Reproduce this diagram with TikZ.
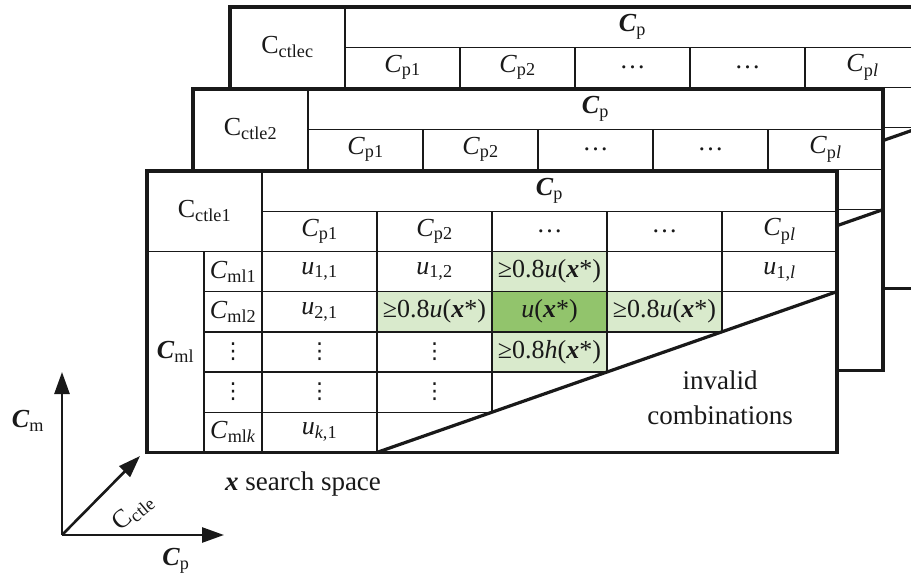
\documentclass[tikz,border=0pt]{standalone}
\usepackage{fontspec}
\setmainfont{Liberation Serif}
\newfontfamily\dejavu{DejaVu Sans}
\usetikzlibrary{arrows.meta}
\definecolor{lg}{RGB}{217,234,204}
\definecolor{dg}{RGB}{146,196,108}
\definecolor{ink}{RGB}{25,25,25}
\tikzset{
  thinline/.style={draw=ink,line width=1.4pt},
  thickline/.style={draw=ink,line width=3.2pt},
  txt/.style={inner sep=0pt,text=ink,font=\fontsize{26}{30}\selectfont},
  vdt/.style={inner sep=0pt,text=ink,font=\dejavu\fontsize{22}{24}\selectfont},
  axisline/.style={draw=ink,line width=2.6pt,-{Triangle[length=22pt,width=15pt]}},
}
\newcommand\tbg{\fill[white] (0,0) rectangle (690,281.4);}
\newcommand\tlines{%
  \begin{scope}
    \clip (0,0) -- (690,0) -- (690,120.6) -- (230,281.4) -- (0,281.4) -- cycle;
    \draw[thinline] (115,40.2) -- (690,40.2);
    \draw[thinline] (0,80.4) -- (690,80.4);
    \foreach \k in {3,...,6} \draw[thinline] (57,40.2*\k) -- (690,40.2*\k);
    \draw[thinline] (115,0) -- (115,281.4);
    \draw[thinline] (57,80.4) -- (57,281.4);
    \foreach \j in {2,...,5} \draw[thinline] (115*\j,40.2) -- (115*\j,281.4);
  \end{scope}
  \draw[thickline] (230,281.4) -- (690,120.6);
  \draw[thickline] (0,0) rectangle (690,281.4);
}
\newcommand\theads[2]{%
  \node[txt] (#1ctle) at (57.5,40.2) {C\textsubscript{#2}};
  \node[txt] (#1cp) at (402.5,20.1) {\textbf{\textit{C}}\textsubscript{p}};
  \node[txt] (#1p1) at (172.5,60.3) {\textit{C}\textsubscript{p1}};
  \node[txt] (#1p2) at (287.5,60.3) {\textit{C}\textsubscript{p2}};
  \node[txt] (#1p3) at (402.5,60.3) {…};
  \node[txt] (#1p4) at (517.5,60.3) {…};
  \node[txt] (#1pl) at (632.5,60.3) {\textit{C}\textsubscript{p\textit{l}}};
}
\begin{document}
\begin{tikzpicture}[x=1pt,y=-1pt]
\clip (0,0) rectangle (911,573);
\fill[white] (0,0) rectangle (911,573);
% back table
\begin{scope}[shift={(230,7)}]
  \tbg \tlines \theads{tc}{ctlec}
\end{scope}
% middle table
\begin{scope}[shift={(193,89)}]
  \tbg \tlines \theads{tb}{ctle2}
\end{scope}
% front table
\begin{scope}[shift={(147,171)}]
  \tbg
  \fill[lg] (345,80.4) rectangle (460,120.6);
  \fill[lg] (230,120.6) rectangle (345,160.8);
  \fill[dg] (345,120.6) rectangle (460,160.8);
  \fill[lg] (460,120.6) rectangle (575,160.8);
  \fill[lg] (345,160.8) rectangle (460,201);
  \tlines
  \theads{ta}{ctle1}
  \node[txt] (tml) at (28.5,180.9) {\textbf{\textit{C}}\textsubscript{ml}};
  \node[txt] (tr1) at (86,100.5) {\textit{C}\textsubscript{ml1}};
  \node[txt] (tr2) at (86,140.7) {\textit{C}\textsubscript{ml2}};
  \node[vdt] (tr3) at (86,180.9) {⋮};
  \node[vdt] (tr4) at (86,221.1) {⋮};
  \node[txt] (tr5) at (86,261.3) {\textit{C}\textsubscript{ml\textit{k}}};
  \node[txt] (u11) at (172.5,100.5) {\textit{u}\textsubscript{1,1}};
  \node[txt] (u12) at (287.5,100.5) {\textit{u}\textsubscript{1,2}};
  \node[txt] (g13) at (402.5,100.5) {≥0.8\textit{u}(\textbf{\textit{x}}*)};
  \node[txt] (u1l) at (632.5,100.5) {\textit{u}\textsubscript{1,\textit{l}}};
  \node[txt] (u21) at (172.5,140.7) {\textit{u}\textsubscript{2,1}};
  \node[txt] (g22) at (287.5,140.7) {≥0.8\textit{u}(\textbf{\textit{x}}*)};
  \node[txt] (ux) at (402.5,140.7) {\textit{u}(\textbf{\textit{x}}*)};
  \node[txt] (g24) at (517.5,140.7) {≥0.8\textit{u}(\textbf{\textit{x}}*)};
  \node[vdt] (v31) at (172.5,180.9) {⋮};
  \node[vdt] (v32) at (287.5,180.9) {⋮};
  \node[txt] (g33) at (402.5,180.9) {≥0.8\textit{h}(\textbf{\textit{x}}*)};
  \node[vdt] (v41) at (172.5,221.1) {⋮};
  \node[vdt] (v42) at (287.5,221.1) {⋮};
  \node[txt] (uk1) at (172.5,261.3) {\textit{u}\textsubscript{\textit{k},1}};
  \node[txt,align=center,font=\fontsize{27}{35}\selectfont] (inv) at (573,227) {invalid\\combinations};
\end{scope}
% search space label
\node[txt,font=\fontsize{27}{30}\selectfont] (ss) at (303,484) {\textbf{\textit{x}} search space};
% axes
\coordinate (O) at (62,535);
\coordinate (Ym) at (62,372);
\coordinate (Xp) at (224,535);
\coordinate (Zc) at (140,456);
\draw[axisline] (O) -- (Ym);
\draw[axisline] (O) -- (Xp);
\draw[axisline] (O) -- (Zc);
\node[txt] (lm) at (28,421) {\textbf{\textit{C}}\textsubscript{m}};
\node[txt] (lp) at (176,561) {\textbf{\textit{C}}\textsubscript{p}};
\node[txt,rotate=40] (lc) at (133,512) {C\textsubscript{ctle}};
\end{tikzpicture}
\end{document}
